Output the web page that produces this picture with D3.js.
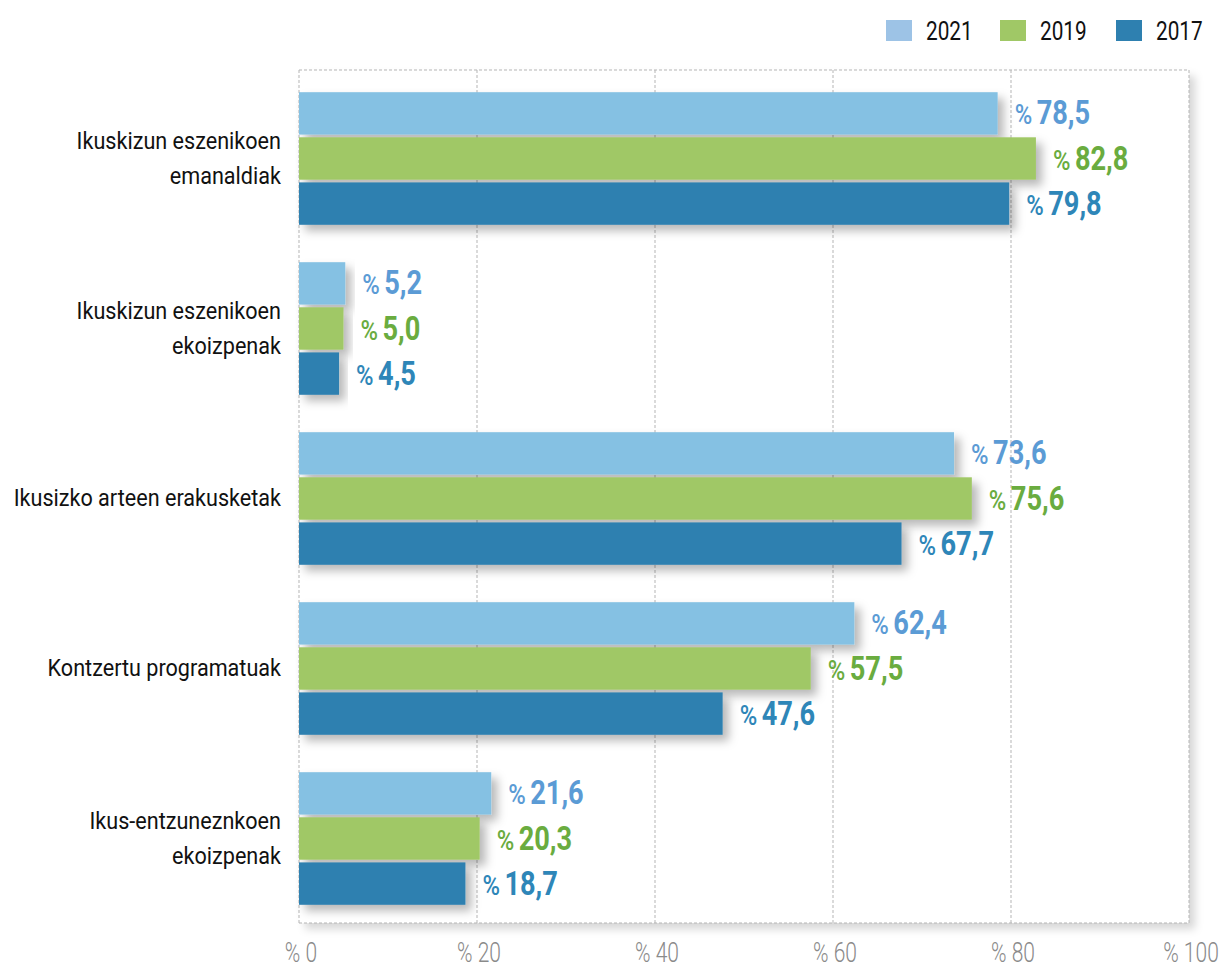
<!DOCTYPE html>
<meta charset="utf-8">
<style>
  body { margin: 0; background: #fff; }
  text { font-family: Roboto, "Liberation Sans", sans-serif; }
</style>
<svg width="1219" height="970"></svg>
<script src="https://d3js.org/d3.v7.min.js"></script>
<script>

// data
var categories = [
  ["Ikuskizun eszenikoen", "emanaldiak"],
  ["Ikuskizun eszenikoen", "ekoizpenak"],
  ["Ikusizko arteen erakusketak"],
  ["Kontzertu programatuak"],
  ["Ikus-entzuneznkoen", "ekoizpenak"]
];
var years = ["2021", "2019", "2017"];
var values2021 = [78.5, 5.2, 73.6, 62.4, 21.6];
var values2019 = [82.8, 5.0, 75.6, 57.5, 20.3];
var values2017 = [79.8, 4.5, 67.7, 47.6, 18.7];
var xTicks = [0, 20, 40, 60, 80, 100];

var series = { "2021": values2021, "2019": values2019, "2017": values2017 };
var barColor = { "2021": "#85c1e3", "2019": "#a0c866", "2017": "#2e80b0" };
var swatchColor = { "2021": "#9dc3e6", "2019": "#a0c866", "2017": "#2e80b0" };
var labelColor = { "2021": "#5b9bd5", "2019": "#6aac3f", "2017": "#2e86b8" };

var svg = d3.select("svg");

var defs = svg.append("defs");
var shadow = defs.append("filter").attr("id", "shadow")
  .attr("x", "-10%").attr("y", "-20%").attr("width", "130%").attr("height", "160%");
shadow.append("feDropShadow")
  .attr("dx", 6).attr("dy", 6).attr("stdDeviation", 5)
  .attr("flood-color", "#000").attr("flood-opacity", 0.28);

var frameShadow = defs.append("filter").attr("id", "frameShadow")
  .attr("x", "-5%").attr("y", "-5%").attr("width", "115%").attr("height", "115%");
frameShadow.append("feDropShadow")
  .attr("dx", 6).attr("dy", 6).attr("stdDeviation", 4)
  .attr("flood-color", "#000").attr("flood-opacity", 0.16);

var plotLeft = 299, plotRight = 1189, plotTop = 70, plotBottom = 923;

var x = d3.scaleLinear().domain([0, 100]).range([plotLeft, plotRight]);

var y = d3.scaleBand()
  .domain(d3.range(categories.length))
  .range([73.5, 923.5])
  .paddingInner(0.22)
  .paddingOuter(0.11);

var yInner = d3.scaleBand()
  .domain(years)
  .range([0, y.bandwidth()])
  .paddingInner(0.06);

// frame with shadow
svg.append("rect")
  .attr("x", plotLeft).attr("y", plotTop)
  .attr("width", plotRight - plotLeft).attr("height", plotBottom - plotTop)
  .attr("fill", "#fff")
  .attr("filter", "url(#frameShadow)");

// grid
svg.append("g")
  .selectAll("line")
  .data(xTicks)
  .enter().append("line")
  .attr("x1", function(d) { return x(d); })
  .attr("x2", function(d) { return x(d); })
  .attr("y1", plotTop).attr("y2", plotBottom)
  .attr("stroke", "#b5b5b5")
  .attr("stroke-width", 1)
  .attr("stroke-dasharray", "3,2");

svg.append("g")
  .selectAll("line")
  .data([plotTop, plotBottom])
  .enter().append("line")
  .attr("x1", plotLeft).attr("x2", plotRight)
  .attr("y1", function(d) { return d; })
  .attr("y2", function(d) { return d; })
  .attr("stroke", "#b5b5b5")
  .attr("stroke-width", 1)
  .attr("stroke-dasharray", "3,2");

// bars
var groups = svg.append("g")
  .selectAll("g")
  .data(categories)
  .enter().append("g")
  .attr("transform", function(d, i) { return "translate(0," + y(i) + ")"; });

years.forEach(function(yr) {
  groups.append("rect")
    .attr("x", x(0))
    .attr("y", yInner(yr))
    .attr("width", function(d, i) { return x(series[yr][i]) - x(0); })
    .attr("height", yInner.bandwidth())
    .attr("fill", barColor[yr])
    .attr("filter", "url(#shadow)");
});

// value labels: small "%" then the bold number
years.forEach(function(yr) {
  var lab = groups.append("g")
    .attr("transform", function(d, i) {
      return "translate(" + (x(series[yr][i]) + 17) + "," + (yInner(yr) + yInner.bandwidth() / 2 + 11) + ")";
    })
    .attr("fill", labelColor[yr]);
  lab.append("text")
    .attr("transform", "scale(0.85,1)")
    .attr("font-size", 28)
    .attr("font-weight", 500)
    .text("%");
  lab.append("text")
    .attr("transform", "translate(22,0) scale(0.8,1)")
    .attr("font-size", 34)
    .attr("font-weight", "bold")
    .text(function(d, i) { return series[yr][i].toFixed(1).replace(".", ","); });
});

// category labels
groups.append("text")
  .attr("text-anchor", "end")
  .attr("font-size", 24)
  .attr("fill", "#111")
  .attr("transform", "translate(281,0) scale(0.9,1)")
  .each(function(d) {
    var el = d3.select(this);
    var n = d.length;
    d.forEach(function(line, k) {
      el.append("tspan")
        .attr("x", 0)
        .attr("y", y.bandwidth() / 2 + 8 + (k - (n - 1) / 2) * 35)
        .text(line);
    });
  });

// x axis labels
svg.append("g")
  .selectAll("text")
  .data(xTicks)
  .enter().append("text")
  .attr("transform", function(d) { return "translate(" + (x(d) + 2) + ",962) scale(0.75,1)"; })
  .attr("text-anchor", "middle")
  .attr("font-size", 28)
  .attr("font-weight", 300)
  .attr("fill", "#8a8a8a")
  .text(function(d) { return "% " + d; });

// legend
var legend = svg.append("g")
  .selectAll("g")
  .data(years)
  .enter().append("g")
  .attr("transform", function(d, i) { return "translate(" + [886, 1000, 1116][i] + ",20)"; });

legend.append("rect")
  .attr("width", 26).attr("height", 21)
  .attr("fill", function(d) { return swatchColor[d]; });

legend.append("text")
  .attr("transform", "translate(40,20) scale(0.8,1)")
  .attr("font-size", 26)
  .attr("fill", "#111")
  .text(function(d) { return d; });

</script>
